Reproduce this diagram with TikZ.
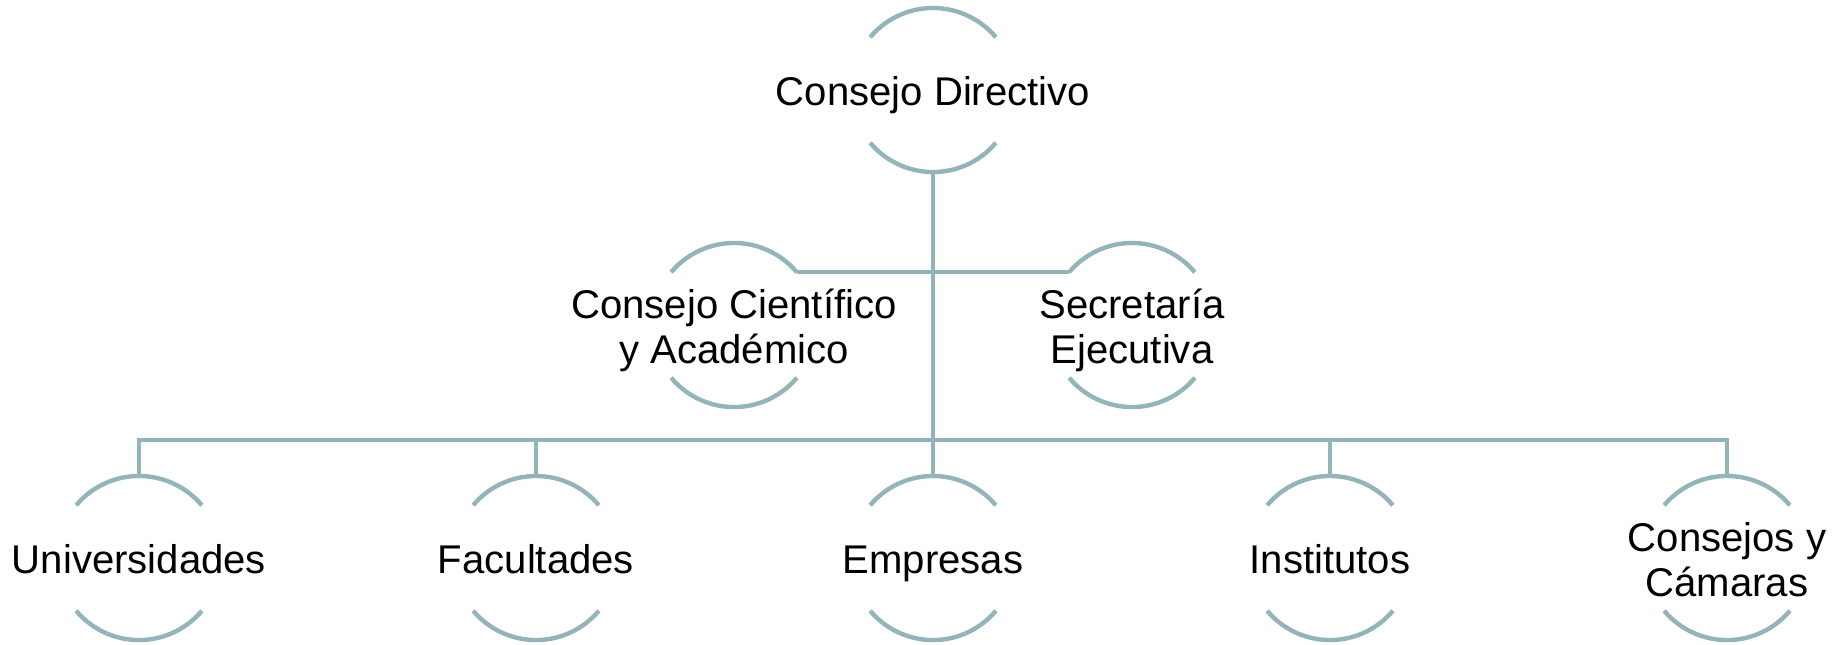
\documentclass[tikz,border=0pt]{standalone}
\usepackage{xcolor}
\usepackage{tikz}
\usepackage{fontspec}
\setmainfont{Liberation Sans}
\definecolor{orgline}{RGB}{147,180,184}
% fixed ascent / descent so that every label sits on the same centre line
\newcommand{\hi}{\rule{0pt}{12.2pt}}
\newcommand{\lo}{\rule[-3.2pt]{0pt}{0pt}}

\begin{document}
\begin{tikzpicture}[
  x=0.01cm, y=-0.01cm,
  unit/.style={circle, inner sep=0pt, outer sep=0pt, minimum size=1.64cm},
  every label/.style={align=center, font=\fontsize{11.4}{12.7}\selectfont, inner sep=0pt},
  link/.style={draw=orgline, line width=1.25pt},
  rim/.style={draw=orgline, line width=1.25pt, line cap=butt}
]
\useasboundingbox (0,0) rectangle (1846,644);

% nodes
\node[unit, label=center:{\hi Consejo Directivo\lo}] (dir) at (933,90) {};
\node[unit, label=center:{\hi Consejo Científico\\y Académico\lo}] (cie) at (734,325) {};
\node[unit, label=center:{\hi Secretaría\\Ejecutiva\lo}] (sec) at (1132,325) {};
\node[unit, label=center:{\hi Universidades\lo}] (uni) at (139,558) {};
\node[unit, label=center:{\hi Facultades\lo}] (fac) at (536,558) {};
\node[unit, label=center:{\hi Empresas\lo}] (emp) at (933,558) {};
\node[unit, label=center:{\hi Institutos\lo}] (ins) at (1330,558) {};
\node[unit, label=center:{\hi Consejos y\\Cámaras\lo}] (cam) at (1727,558) {};
\coordinate (bus) at (933,440);

% half rims
\foreach \n in {dir,cie,sec,uni,fac,emp,ins,cam}
  \draw[rim] (\n.40) arc[start angle=40, end angle=140, radius=0.82cm]
             (\n.220) arc[start angle=220, end angle=320, radius=0.82cm];

% connectors
\draw[link] (dir.south) -- (bus);
\draw[link] (cie.40) -- (sec.140);
\draw[link] (uni.north) |- (bus) -| (cam.north);
\foreach \n in {fac,emp,ins}
  \draw[link] (\n.north) -- (\n.north |- bus);
\end{tikzpicture}
\end{document}
